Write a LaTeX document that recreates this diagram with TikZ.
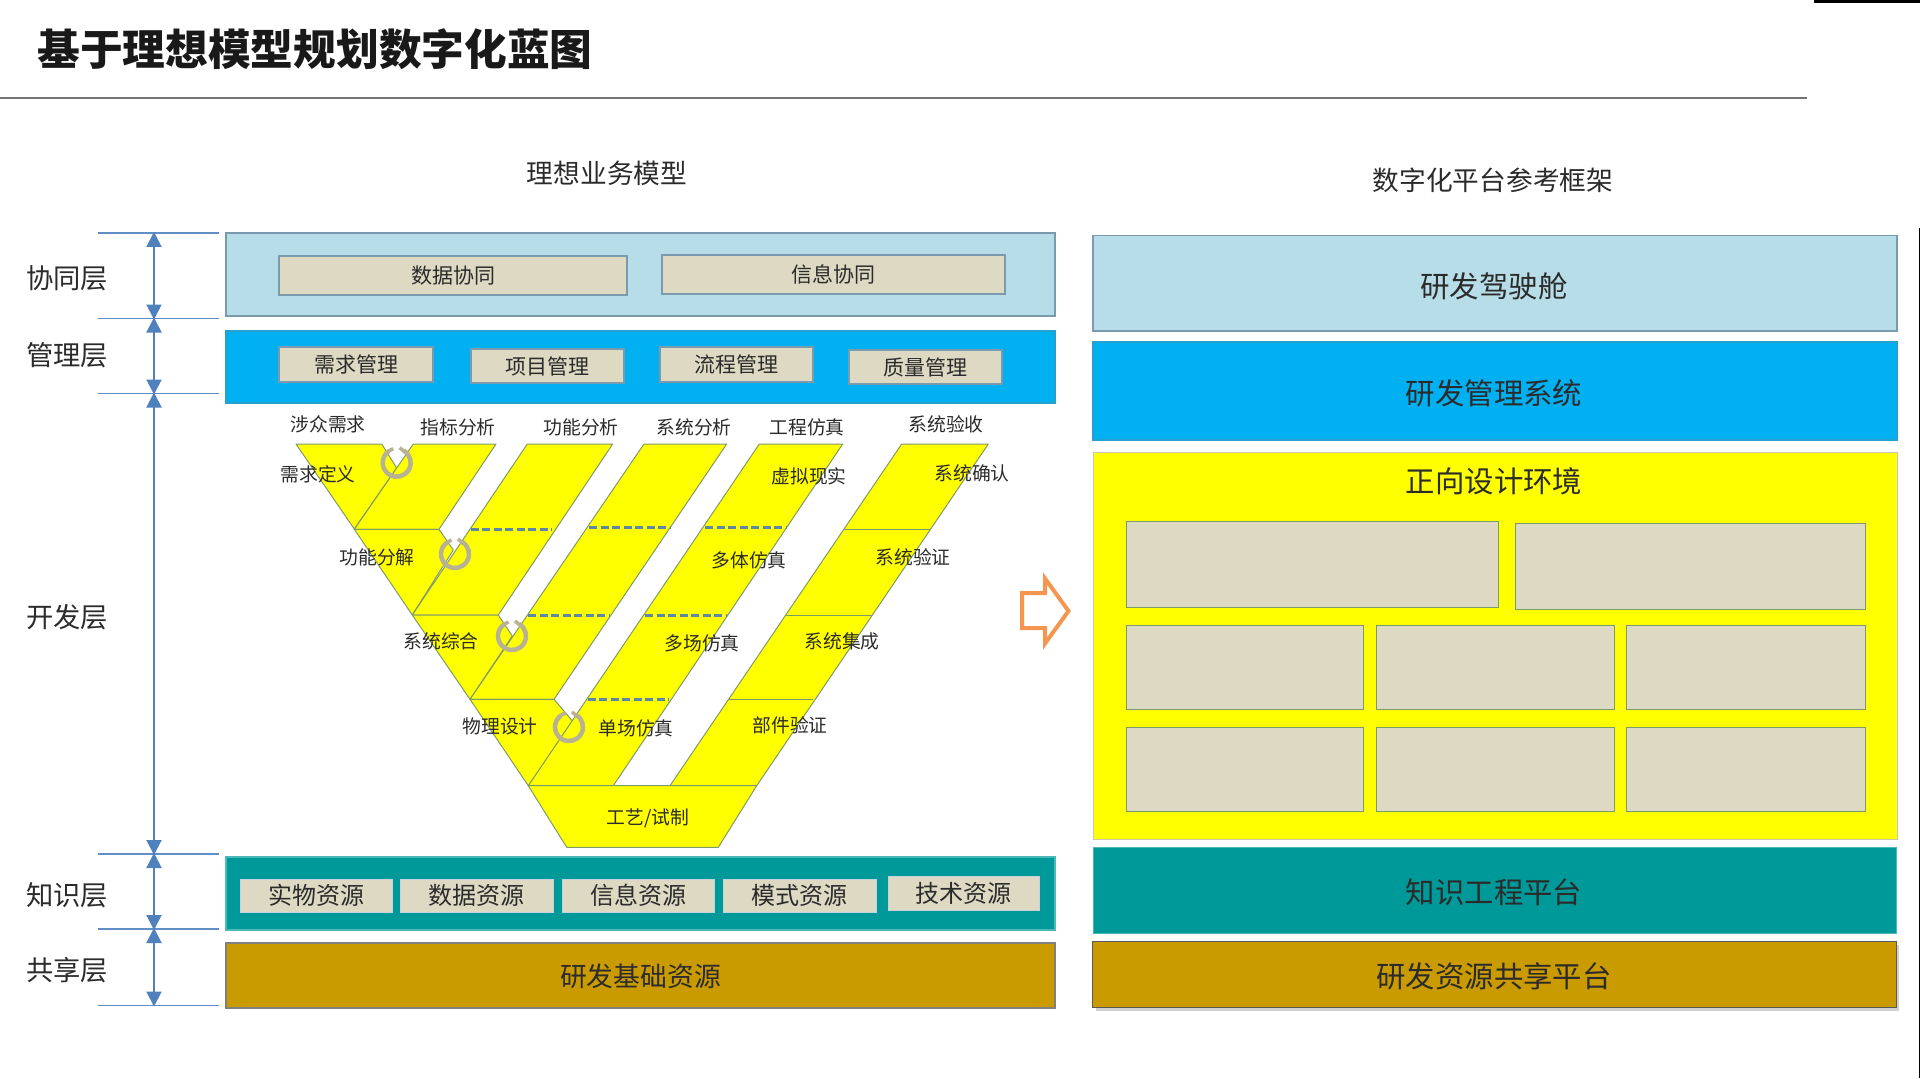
\documentclass[tikz,border=0pt]{standalone}
\usepackage{fontspec}
\setmainfont{Noto Sans CJK SC}
\usetikzlibrary{arrows.meta}
\definecolor{lblue}{HTML}{B7DDE8}
\definecolor{sblue}{HTML}{00B0F0}
\definecolor{vyel}{HTML}{FFFF00}
\definecolor{teal2}{HTML}{009999}
\definecolor{gold2}{HTML}{CA9B00}
\definecolor{tan2}{HTML}{DDD9C3}
\definecolor{edge2}{HTML}{7A9AAE}
\definecolor{vedge}{HTML}{7F9A6A}
\definecolor{dash2}{HTML}{5C88A6}
\definecolor{rule2}{HTML}{4F81BD}
\definecolor{ink}{HTML}{2B2B2B}
\definecolor{ring}{HTML}{B8B294}
\definecolor{orng}{HTML}{F4964F}
\tikzset{
  x=1pt,y=-1pt,
  band/.style={draw=edge2,line width=1.2pt},
  tanbox/.style={draw=edge2,fill=tan2,line width=1.1pt},
  tanboxl/.style={draw=edge2!45!white,fill=tan2,line width=1pt},
  lab/.style={text=ink,inner sep=0pt,font=\fontsize{#1}{#1}\selectfont},
  vface/.style={fill=vyel,draw=vedge,line width=1pt,line join=round},
  vdash/.style={draw=dash2,line width=3pt,dash pattern=on 8pt off 3.5pt},
  vsolid/.style={draw=vedge,line width=1pt},
  dim/.style={draw=rule2,line width=2pt,{Triangle[length=15pt,width=15pt]}-{Triangle[length=15pt,width=15pt]},shorten <=-1pt,shorten >=-1pt},
  dimrule/.style={draw=rule2!90!white,line width=1.5pt},
  ringarc/.style={draw=ring,line width=4.5pt},
}
\newcommand{\lbox}[7]{\path[#1] (#2,#3) rectangle (#4,#5); \node[lab=#7] (#1-#2-#3) at ({(#2+#4)/2},{(#3+#5)/2}) {#6};}
\newcommand{\ringmark}[2]{%
  \draw[ringarc] (#1,#2)++(-60:14) arc[start angle=-60,end angle=235,radius=14];
  \draw[ringarc,line width=3.5pt] (#1,#2)++(-8.5,-11.5) -- ++(5,-2.5);
  \draw[ringarc,line width=3.5pt] (#1,#2)++(3,-15) -- ++(6,5);
}
\begin{document}
\begin{tikzpicture}
\useasboundingbox (0,0) rectangle (1920,1078);
\fill[white] (0,0) rectangle (1920,1078);
% header
\node[inner sep=0pt,font=\fontsize{42.7}{42.7}\selectfont\bfseries,text=black!90] (title) at (315,49) {基于理想模型规划数字化蓝图};
\draw[black!55,line width=1.3pt] (0,98) -- (1807,98);
\fill[black] (1814,0) rectangle (1920,3);
\fill[black] (1918.5,228) rectangle (1920,1078);
\node[lab=26.7] (lefthead) at (607,173) {理想业务模型};
\node[lab=26.7] (righthead) at (1493,180) {数字化平台参考框架};
% layer labels
\node[lab=27.3] (l1) at (67,278) {协同层};
\node[lab=27.3] (l2) at (67,355) {管理层};
\node[lab=27.3] (l3) at (67,617) {开发层};
\node[lab=27.3] (l4) at (67,895) {知识层};
\node[lab=27.3] (l5) at (67,970) {共享层};
% dimension rules
\foreach \n/\y in {a/233,b/318.5,c/393.5,d/854,e/929,f/1005.5}{
  \coordinate (rl\n) at (98,\y);
  \coordinate (rr\n) at (218.5,\y);
  \coordinate (rm\n) at (154,\y);
  \draw[dimrule] (rl\n) -- (rr\n);
}
\draw[dim] (rma) -- (rmb);
\draw[dim] (rmb) -- (rmc);
\draw[dim] (rmc) -- (rmd);
\draw[dim] (rmd) -- (rme);
\draw[dim] (rme) -- (rmf);
% left bands
\path[band,fill=lblue] (226,233) rectangle (1055,316);
\path[band,fill=sblue,draw=sblue!70!gray] (226,331) rectangle (1055,403);
\path[band,fill=teal2,draw=teal2!70!white] (226,857) rectangle (1055,930);
\path[band,fill=gold2,draw=black!50] (226,943) rectangle (1055,1008);
\node[lab=26.8] (basis) at (640.5,976) {研发基础资源};
\lbox{tanbox}{279}{256}{627}{295}{数据协同}{21}
\lbox{tanbox}{662}{255}{1005}{294}{信息协同}{21}
\lbox{tanbox}{279}{347}{433}{382}{需求管理}{21}
\lbox{tanbox}{471}{349}{624}{383}{项目管理}{21}
\lbox{tanbox}{660}{347}{813}{382}{流程管理}{21}
\lbox{tanbox}{849}{350}{1002}{384}{质量管理}{21}
\lbox{tanboxl}{240}{879}{392}{912}{实物资源}{24}
\lbox{tanboxl}{400}{879}{553}{912}{数据资源}{24}
\lbox{tanboxl}{562}{879}{714}{912}{信息资源}{24}
\lbox{tanboxl}{723}{879}{876}{912}{模式资源}{24}
\lbox{tanboxl}{888}{876}{1039}{910}{技术资源}{24}
% V model
\path[vface] (296,444) -- (381.7,444) -- (396.7,468) -- (354.3,529) -- cycle;
\path[vface] (413.3,444) -- (496,444) -- (439,529.3) -- (354.3,529.3) -- cycle;
\path[vface] (354.3,529.3) -- (439,529.3) -- (453.3,550) -- (412.3,615) -- cycle;
\path[vface] (527.3,444) -- (612.7,444) -- (498.3,615) -- (412.3,615) -- cycle;
\path[vface] (412.3,615) -- (498.3,615) -- (512.3,636) -- (470,699.3) -- cycle;
\path[vface] (644,444) -- (726.7,444) -- (554,699.3) -- (470,699.3) -- cycle;
\path[vface] (470,699.3) -- (554,699.3) -- (573.3,722) -- (528.3,785.7) -- cycle;
\path[vface] (759.3,444) -- (842.7,444) -- (613.3,785.7) -- (528.3,785.7) -- cycle;
\path[vface] (901.7,444) -- (988.3,444) -- (756.7,785.7) -- (670,785.7) -- cycle;
\path[vface] (528.3,785.7) -- (756.7,785.7) -- (718.3,847.3) -- (566.7,847.3) -- cycle;
\draw[vsolid] (613.3,785.7) -- (670,785.7);
\foreach \xa/\xb/\y in {470.7/551.7/529,589.3/670/527,705/786.7/527,528.3/610/615,645/726.7/615,587.7/669.3/699}{
  \draw[vdash] (\xa,\y) -- (\xb,\y);
}
\foreach \xa/\xb/\y in {844/930/529,785.7/871.7/615,728.3/813.3/699}{
  \draw[vsolid] (\xa,\y) -- (\xb,\y);
}
\ringmark{396.7}{462.7}
\ringmark{455}{554}
\ringmark{512}{636}
\ringmark{569}{727}
% V labels
\foreach \x/\y/\t in {328/424/涉众需求,458/427/指标分析,581/427/功能分析,694/427/系统分析,807/427/工程仿真,946/424/系统验收,318/474/需求定义,809/476/虚拟现实,972/473/系统确认,377/557.5/功能分解,749/560/多体仿真,913/557.5/系统验证,441/641.5/系统综合,702/643/多场仿真,842/641.5/系统集成,500/726/物理设计,636/728.5/单场仿真,790/725.5/部件验证,648/818.5/{工艺/试制}}{
  \node[lab=18.8] (v\x-\y) at (\x,\y) {\t};
}
% big arrow
\draw[orng,line width=4pt,fill=white,miter limit=6,line join=miter] (1022,593) -- (1045,593) -- (1045,578.5) -- (1068.5,611) -- (1045,643.5) -- (1045,628) -- (1022,628) -- cycle;
% right panel
\path[band,fill=lblue] (1093,235.5) rectangle (1897,331);
\node[lab=29.4] (r1) at (1494,286) {研发驾驶舱};
\path[band,fill=sblue,draw=sblue!70!gray] (1093,342) rectangle (1897,440);
\node[lab=29.4] (r2) at (1494,393) {研发管理系统};
\path[fill=vyel,draw=tan2!80!gray,line width=1pt] (1093,452) rectangle (1897,839);
\node[lab=29.4] (r3) at (1494,481) {正向设计环境};
\foreach \xa/\ya/\xb/\yb in {1126.5/521.5/1498/607,1515/523.5/1865/609,1126/625/1363/709,1376/625/1614/709,1626/625/1865/709,1126.5/727/1363.5/811,1376/727/1614/811,1626/727/1865/811}{
  \path[fill=tan2,draw=vedge,line width=1pt] (\xa,\ya) rectangle (\xb,\yb);
}
\path[fill=teal2,draw=teal2!70!white,line width=1pt] (1093,847) rectangle (1896,933);
\node[lab=29.4] (r4) at (1494,892) {知识工程平台};
\fill[black,opacity=0.18] (1096,945) rectangle (1899,1011);
\path[fill=gold2,draw=black!65,line width=1pt] (1092,941) rectangle (1896,1007);
\node[lab=29.4] (r5) at (1494,976) {研发资源共享平台};
\end{tikzpicture}
\end{document}
